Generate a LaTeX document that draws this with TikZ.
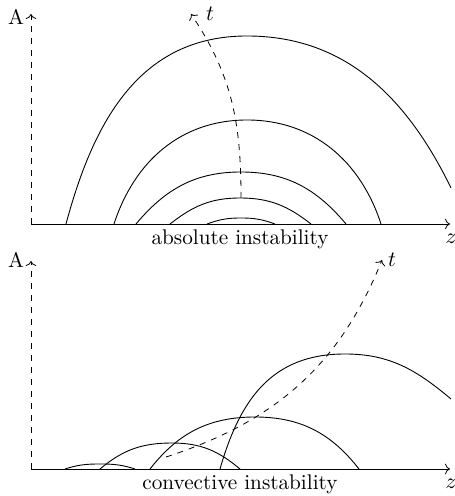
\documentclass[tikz,border=0pt]{standalone}
\usetikzlibrary{arrows.meta, positioning}

\begin{document}
\begin{tikzpicture}[
  x=0.5pt, y=0.5pt,
  font=\fontsize{10.6}{12.5}\selectfont,
  axis/.style={->},
  vaxis/.style={dashed, ->},
  wave/.style={line width=0.45pt},
  growth/.style={dashed, ->}]
\useasboundingbox (0,0) rectangle (454,496);
% absolute instability
\begin{scope}[shift={(31,272)}]
\coordinate (o1) at (0,0);
\coordinate (y1) at (0,210);
\coordinate (z1) at (419,0);
\draw[vaxis] (o1) -- (y1);
\draw[axis] (o1) -- (z1);
\node (A1) at (-15,207) {A};
\node (zl1) at (420,-15) {$z$};
\node (cap1) at (209,-15) {absolute instability};
\draw[wave] (35,0) to[out=75,in=180,looseness=1.05] (216,188) to[out=0,in=116] (420,36);
\draw[wave] (83,0) to[out=72,in=180] (216,104) to[out=0,in=108] (350,0);
\draw[wave] (105,0) to[out=50,in=180] (210,52) to[out=0,in=130] (315,0);
\draw[wave] (139,0) to[out=38,in=180] (209,26) to[out=0,in=142] (280,0);
\draw[wave] (176,0) to[out=20,in=180] (210,6) to[out=0,in=160] (244,0);
\coordinate (t1s) at (210,26);
\coordinate (t1e) at (160,210);
\draw[growth] (t1s) to[out=90,in=-56] (t1e);
\node (t1) at (179,210) {$t$};
\end{scope}
% convective instability
\begin{scope}[shift={(31,27)}]
\coordinate (o2) at (0,0);
\coordinate (y2) at (0,208);
\coordinate (z2) at (419,0);
\draw[vaxis] (o2) -- (y2);
\draw[axis] (o2) -- (z2);
\node (A2) at (-15,209) {A};
\node (zl2) at (420,-15) {$z$};
\node (cap2) at (209,-15) {convective instability};
\draw[wave] (34,0) to[out=18,in=180] (69,5) to[out=0,in=162] (104,0);
\draw[wave] (69,0) to[out=40,in=180] (141,26) to[out=0,in=140] (209,0);
\draw[wave] (119,0) to[out=52,in=180] (224,52) to[out=0,in=128] (328,0);
\draw[wave] (189,0) to[out=74,in=180,looseness=1.1] (314,115) to[out=0,in=140] (420,70);
\coordinate (t2s) at (135,12);
\coordinate (t2e) at (351,209);
\draw[growth] (t2s) to[out=18,in=-112] (t2e);
\node (t2) at (361,209) {$t$};
\end{scope}
\end{tikzpicture}
\end{document}
